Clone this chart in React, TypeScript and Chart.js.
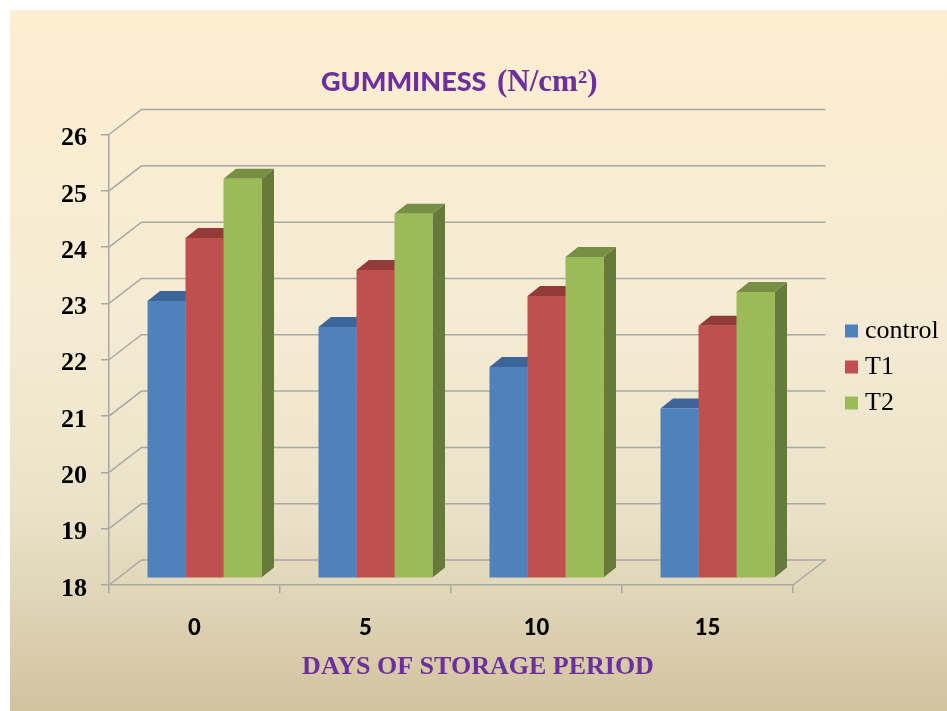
import React, { useEffect, useRef } from "react";
import { Chart, registerables } from "chart.js";

Chart.register(...registerables);

const days = ["0", "5", "10", "15"];
const controlValues = [22.91, 22.45, 21.74, 21.0];
const t1Values = [24.03, 23.46, 23.0, 22.47];
const t2Values = [25.08, 24.46, 23.69, 23.07];
const titleMain = "GUMMINESS ";
const titleUnit = "(N/cm²)";
const xTitle = "DAYS OF STORAGE PERIOD";

const PURPLE = "#6d2f9e";
const GRID = "#a9a8a2";
const faces = [
  { front: "#4f81bd", side: "#3b6190", top: "#3c659a" },
  { front: "#c0504d", side: "#8f3b39", top: "#923b39" },
  { front: "#9bbb59", side: "#667b3a", top: "#768f42" },
];

const scene = {
  id: "scene",
  beforeDraw(chart: any) {
    const { ctx, width, height } = chart;
    ctx.save();
    ctx.fillStyle = "#ffffff";
    ctx.fillRect(0, 0, width, height);
    const g = ctx.createLinearGradient(0, 10, 0, height);
    g.addColorStop(0, "#fdeed0");
    g.addColorStop(0.45, "#f5ebd4");
    g.addColorStop(0.72, "#e9e2c8");
    g.addColorStop(1, "#d2c39f");
    ctx.fillStyle = g;
    ctx.fillRect(10, 10, width - 10, height - 10);
    ctx.restore();
  },
  beforeDatasetsDraw(chart: any) {
    const { ctx, chartArea, scales } = chart;
    const dx = 32.5;
    const dy = 25;
    ctx.save();
    ctx.strokeStyle = GRID;
    ctx.lineWidth = 1.5;
    scales.y.ticks.forEach((t: any) => {
      const y = scales.y.getPixelForValue(t.value);
      ctx.beginPath();
      ctx.moveTo(chartArea.left, y);
      ctx.lineTo(chartArea.left + dx, y - dy);
      ctx.lineTo(chartArea.right + dx, y - dy);
      ctx.stroke();
    });
    const yBase = scales.y.getPixelForValue(scales.y.min);
    ctx.beginPath();
    ctx.moveTo(chartArea.right, yBase);
    ctx.lineTo(chartArea.right + dx, yBase - dy);
    ctx.stroke();
    ctx.restore();

    ctx.save();
    ctx.translate(10, -7.5);
    const sx = 12.5;
    const sy = 10;
    chart.data.datasets.forEach((_: any, i: number) => {
      const c = faces[i];
      chart.getDatasetMeta(i).data.forEach((bar: any) => {
        const l = bar.x - bar.width / 2;
        const r = bar.x + bar.width / 2;
        ctx.fillStyle = c.side;
        ctx.beginPath();
        ctx.moveTo(r, bar.y);
        ctx.lineTo(r + sx, bar.y - sy);
        ctx.lineTo(r + sx, yBase - sy);
        ctx.lineTo(r, yBase);
        ctx.closePath();
        ctx.fill();
        ctx.fillStyle = c.top;
        ctx.beginPath();
        ctx.moveTo(l, bar.y);
        ctx.lineTo(l + sx, bar.y - sy);
        ctx.lineTo(r + sx, bar.y - sy);
        ctx.lineTo(r, bar.y);
        ctx.closePath();
        ctx.fill();
      });
    });
  },
  afterDatasetsDraw(chart: any) {
    chart.ctx.restore();
  },
  afterLayout(chart: any) {
    const lg = chart.legend;
    const w = lg.right - lg.left;
    const h = lg.bottom - lg.top;
    lg.left = 841;
    lg.right = 841 + w;
    lg.top = 308;
    lg.bottom = 308 + h;
  },
  afterDraw(chart: any) {
    const { ctx } = chart;
    ctx.save();
    ctx.fillStyle = PURPLE;
    ctx.textBaseline = "alphabetic";
    ctx.textAlign = "left";
    ctx.font = "900 27px Lato";
    ctx.fillText(titleMain, 321, 91);
    ctx.font = "bold 31px 'Liberation Serif'";
    ctx.fillText(titleUnit, 497, 91);
    ctx.font = "bold 26px 'Liberation Serif'";
    ctx.textAlign = "center";
    ctx.fillText(xTitle, 478, 674);
    ctx.restore();
  },
};

export default function App() {
  const ref = useRef<HTMLCanvasElement>(null);
  useEffect(() => {
    const mk = (label: string, data: number[], i: number) => ({
      label,
      data,
      backgroundColor: faces[i].front,
      borderWidth: 0,
      categoryPercentage: 114 / 171,
      barPercentage: 1,
    });
    const chart = new Chart(ref.current!, {
      type: "bar",
      data: {
        labels: days,
        datasets: [
          mk("control", controlValues, 0),
          mk("T1", t1Values, 1),
          mk("T2", t2Values, 2),
        ],
      },
      plugins: [scene],
      options: {
        responsive: false,
        animation: false,
        layout: { padding: { left: 0, top: 134.5, right: 154, bottom: 66 } },
        plugins: {
          tooltip: { enabled: false },
          title: { display: false },
          legend: {
            position: "chartArea",
            align: "start",
            labels: {
              usePointStyle: true,
              pointStyle: "rect",
              boxWidth: 1,
              boxHeight: 13,
              padding: 10,
              color: "#000000",
              font: { family: "'Liberation Serif'", size: 26 },
            },
          },
        },
        scales: {
          x: {
            afterFit: (s: any) => {
              s.height = 60;
            },
            grid: {
              drawOnChartArea: false,
              color: GRID,
              lineWidth: 1.5,
              tickLength: 8,
            },
            border: { color: GRID, width: 1.5 },
            ticks: {
              padding: 22,
              color: "#000000",
              maxRotation: 0,
              font: { family: "Lato", size: 22, weight: "900" },
            },
          },
          y: {
            min: 18,
            max: 26,
            afterFit: (s: any) => {
              s.width = 109;
            },
            grid: {
              drawOnChartArea: false,
              color: GRID,
              lineWidth: 1.5,
              tickLength: 8,
            },
            border: { color: GRID, width: 1.5 },
            ticks: {
              stepSize: 1,
              padding: 14,
              labelOffset: 4,
              color: "#000000",
              font: { family: "'Liberation Serif'", size: 26, weight: "bold" },
            },
          },
        },
      },
    } as any);
    return () => chart.destroy();
  }, []);
  return (
    <div style={{ position: "absolute", left: 0, top: 0, width: 947, height: 711 }}>
      <canvas ref={ref} width={947} height={711} style={{ display: "block" }} />
    </div>
  );
}
